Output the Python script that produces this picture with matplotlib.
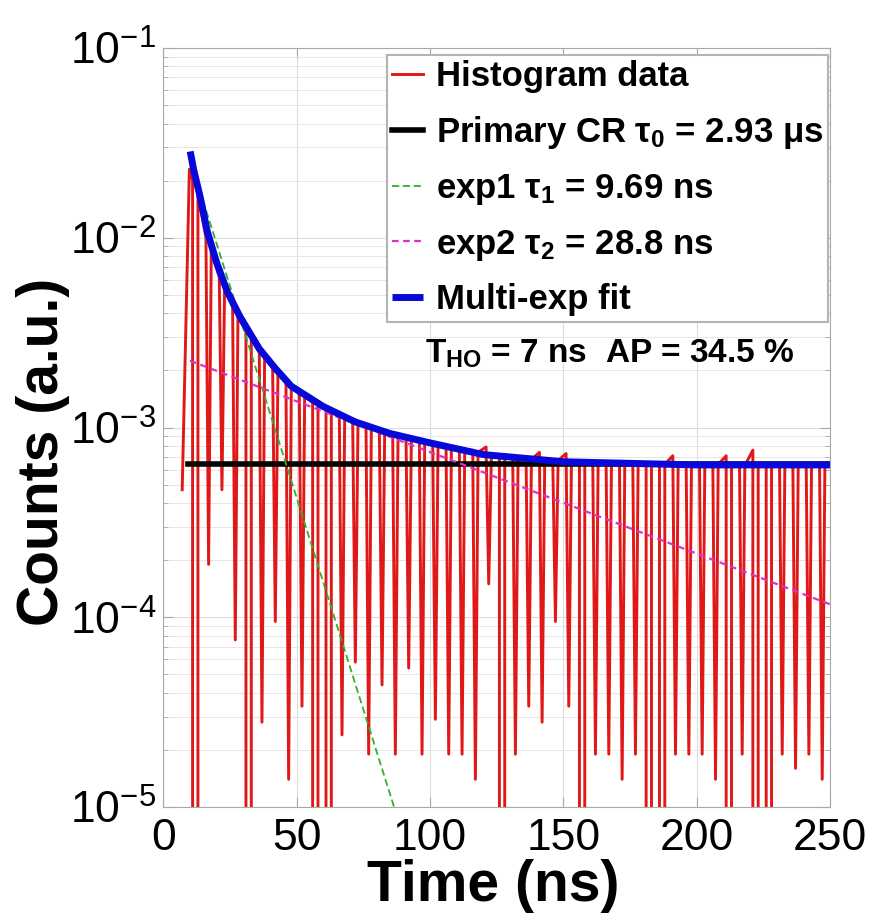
import numpy as np
import matplotlib
matplotlib.use("Agg")
import matplotlib.pyplot as plt

plt.rcParams['font.family'] = ['Liberation Sans', 'DejaVu Sans']
plt.rcParams['mathtext.fontset'] = 'custom'
plt.rcParams['mathtext.rm'] = 'Liberation Sans'
plt.rcParams['mathtext.default'] = 'regular'
plt.rcParams['axes.unicode_minus'] = False

# --- data (time in ns, counts a.u.) ---
# histogram: initial rise, then narrow dips every 5 ns
start_t = [7.1, 9.8]
start_counts = [4.7e-4, 2.3e-2]
dip_t = list(range(12, 250, 5))
dip_counts = [0, 1.9e-4, 4.7e-4, 7.6e-5, 0, 2.8e-5, 9.5e-5, 1.4e-5,
              3.4e-5, 0, 0, 2.4e-5, 5.8e-5, 1.9e-5, 4.4e-5, 1.9e-5,
              5.4e-5, 1.9e-5, 2.9e-5, 1.9e-5, 1.9e-5, 1.4e-5, 1.5e-4, 0,
              1.9e-5, 3.4e-5, 2.8e-5, 9.5e-5, 3.4e-5, 0, 1.9e-5, 1.9e-5,
              1.4e-5, 1.9e-5, 0, 0, 1.9e-5, 1.9e-5, 1.9e-5, 1.4e-5,
              0, 1.9e-5, 0, 0, 1.9e-5, 1.6e-5, 1.9e-5, 1.4e-5]
# counts just before / just after each dip
pre_dip = [2.0e-2, 1.0e-2, 6.2e-3, 4.3e-3, 3.2e-3, 2.5e-3, 2.05e-3, 1.72e-3,
           1.5e-3, 1.36e-3, 1.25e-3, 1.16e-3, 1.08e-3, 1.01e-3, 9.6e-4, 9.2e-4,
           8.8e-4, 8.5e-4, 8.2e-4, 7.9e-4, 7.6e-4, 7.6e-4, 7.9e-4, 7.0e-4,
           6.9e-4, 6.9e-4, 7.4e-4, 6.7e-4, 7.3e-4, 6.6e-4, 6.5e-4, 6.5e-4,
           6.5e-4, 6.5e-4, 6.5e-4, 6.4e-4, 7.1e-4, 6.4e-4, 6.4e-4, 6.4e-4,
           7.1e-4, 6.3e-4, 7.6e-4, 6.3e-4, 6.3e-4, 6.3e-4, 6.3e-4, 6.3e-4]
post_dip = [1.7e-2, 8.6e-3, 5.6e-3, 3.9e-3, 2.95e-3, 2.4e-3, 1.98e-3, 1.68e-3,
            1.46e-3, 1.33e-3, 1.22e-3, 1.14e-3, 1.06e-3, 1.0e-3, 9.5e-4, 9.1e-4,
            8.8e-4, 8.5e-4, 8.2e-4, 7.9e-4, 7.6e-4, 7.4e-4, 7.2e-4, 7.0e-4,
            6.9e-4, 6.8e-4, 6.8e-4, 6.7e-4, 6.6e-4, 6.6e-4, 6.5e-4, 6.5e-4,
            6.5e-4, 6.5e-4, 6.5e-4, 6.4e-4, 6.4e-4, 6.4e-4, 6.4e-4, 6.4e-4,
            6.3e-4, 6.3e-4, 6.3e-4, 6.3e-4, 6.3e-4, 6.3e-4, 6.3e-4, 6.3e-4]
end_t = [250]
end_counts = [6.3e-4]

primary_t = [9.4, 250]
primary_counts = [6.4e-4, 6.4e-4]
exp1_t = [10, 90]
exp1_counts = [2.6e-2, 7e-6]
exp2_t = [10, 250]
exp2_counts = [2.25e-3, 1.17e-4]
fit_t = [10.1, 11.5, 13.8, 16.5, 20, 24, 28.7, 36, 42, 48, 60, 72, 85, 100,
         120, 150, 200, 250]
fit_counts = [2.85e-2, 2.25e-2, 1.65e-2, 1.08e-2, 7.4e-3, 5.2e-3, 3.85e-3,
              2.6e-3, 2.05e-3, 1.65e-3, 1.29e-3, 1.07e-3, 9.3e-4, 8.3e-4,
              7.2e-4, 6.6e-4, 6.35e-4, 6.35e-4]

labels = ["Histogram data",
          r"Primary CR $\tau_0$ = 2.93 $\mu$s",
          r"exp1 $\tau_1$ = 9.69 ns",
          r"exp2 $\tau_2$ = 28.8 ns",
          "Multi-exp fit"]
note = r"T$_{HO}$ = 7 ns  AP = 34.5 %"

# assemble the histogram polyline
hw = 1.0
hist_t = list(start_t)
hist_c = list(start_counts)
for t, d, a, b in zip(dip_t, dip_counts, pre_dip, post_dip):
    hist_t += [t - hw, t, t + hw]
    hist_c += [a, d, b]
hist_t += end_t
hist_c += end_counts

fig = plt.figure(figsize=(8.73, 9.14), dpi=100)
ax = fig.add_axes([0.187, 0.117, 0.764, 0.8305])
ax.set_yscale('log', nonpositive='clip')

ax.plot(hist_t, hist_c, color='#e01818', lw=2.1, label=labels[0])
ax.plot(primary_t, primary_counts, color='black', lw=4, label=labels[1])
ax.plot(exp1_t, exp1_counts, color='#30b030', lw=1.3, ls=(0, (4, 2)),
        label=labels[2])
ax.plot(exp2_t, exp2_counts, color='#e030c8', lw=1.6, ls=(0, (3, 2)),
        label=labels[3])
ax.plot(fit_t, fit_counts, color='#0808d8', lw=5, label=labels[4],
        solid_capstyle='butt')

ax.set_xlim(0, 250)
ax.set_ylim(1e-5, 1e-1)
ax.set_xticks([0, 50, 100, 150, 200, 250])
ax.grid(True, which='major', color='#dcdcdc', lw=0.8)
ax.grid(True, which='minor', axis='y', color='#e6e6e6', lw=0.7)
ax.set_axisbelow(True)
for s in ax.spines.values():
    s.set_color('#a8a8a8')
ax.tick_params(which='both', direction='in', colors='#a8a8a8',
               labelcolor='black', labelsize=32, top=True, right=True)
ax.tick_params(which='major', length=7)
ax.tick_params(which='minor', length=3.5)
ax.tick_params(axis='x', pad=8)
ax.tick_params(axis='y', pad=5)

ax.set_xlabel("Time (ns)", fontsize=41, fontweight='bold')
ax.set_ylabel("Counts (a.u.)", fontsize=41, fontweight='bold')
ax.xaxis.set_label_coords(0.495, -0.069)
ax.yaxis.set_label_coords(-0.14, 0.468)

leg = ax.legend(loc='upper right', bbox_to_anchor=(0.997, 0.991),
                borderaxespad=0, prop={'size': 25, 'weight': 'bold'},
                handlelength=0.9, handletextpad=0.35, borderpad=0.15,
                labelspacing=0.6, fancybox=False, framealpha=1,
                edgecolor='#b4b4b4')
leg.get_frame().set_linewidth(1.5)

ax.text(0.392, 0.585, note, transform=ax.transAxes, fontsize=24,
        fontweight='bold', va='baseline', ha='left')

fig.savefig("out.png", dpi=100)
